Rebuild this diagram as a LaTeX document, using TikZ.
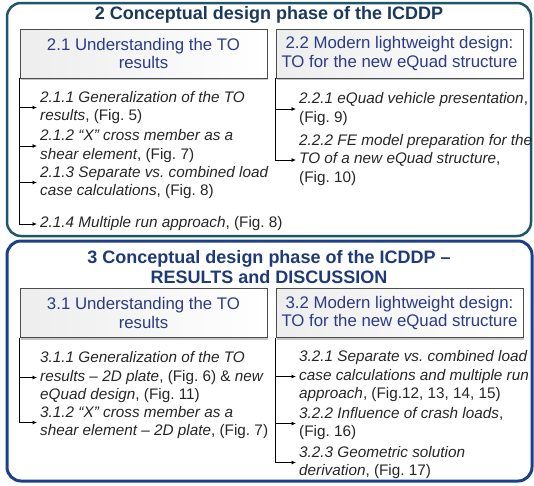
\documentclass[tikz,border=0pt]{standalone}
\usepackage{fontspec}
\setmainfont{Liberation Sans}
\usetikzlibrary{arrows.meta,shadows}
\definecolor{tealb}{HTML}{1E5568}
\definecolor{blueb}{HTML}{1C3F8A}
\definecolor{hdtxt}{HTML}{2A3C86}
\definecolor{tone}{HTML}{1B3A5A}
\definecolor{ttwo}{HTML}{1E3A78}
\frenchspacing
\begin{document}
\begin{tikzpicture}[x=1pt,y=-1pt,
 outerone/.style={draw=tealb,line width=2.5pt,rounded corners=14pt},
 outertwo/.style={draw=blueb,line width=3pt,rounded corners=14pt},
 ttl/.style={font=\fontsize{18}{20.5}\selectfont\bfseries, align=center, inner sep=0pt},
 hdr/.style={draw=gray!60!black, line width=0.6pt, left color=gray!14, right color=white,
   text=hdtxt, font=\fontsize{16.8}{18.5}\selectfont, align=center, inner sep=0pt,
   minimum width=247pt, minimum height=49pt,
   drop shadow={shadow xshift=0.6pt,shadow yshift=-2pt,opacity=0.45}},
 item/.style={anchor=west, align=left, inner xsep=3pt, inner ysep=0pt,
   font=\fontsize{15.3}{18.5}\selectfont, text=black!85},
 arr/.style={-{Latex[length=4.5pt,width=4pt]}, line width=0.8pt}]
\useasboundingbox[fill=white] (0,0) rectangle (534,485);
% outer boxes
\draw[outerone] (7,3) rectangle (531,236);
\draw[outertwo] (7,241) rectangle (532,481);
% titles
\node[ttl, text=tone] (t1) at (269,15) {2 Conceptual design phase of the ICDDP};
\node[ttl, text=ttwo] (t2) at (269,267) {3 Conceptual design phase of the ICDDP –\\RESULTS and DISCUSSION};
% headers
\node[hdr] (h21) at (143.5,53.5) {2.1 Understanding the TO\\results};
\node[hdr] (h22) at (399.5,53.5) {2.2 Modern lightweight design:\\TO for the new eQuad structure};
\node[hdr] (h31) at (143.5,313) {3.1 Understanding the TO\\results};
\node[hdr] (h32) at (399.5,313) {3.2 Modern lightweight design:\\TO for the new eQuad structure};
% items top left
\node[item] (i211) at (37,107.5) {\textit{2.1.1 Generalization of the TO}\\\textit{results}, (Fig. 5)};
\node[item] (i212) at (37,146) {\textit{2.1.2 “X” cross member as a}\\\textit{shear element}, (Fig. 7)};
\node[item] (i213) at (37,182.5) {\textit{2.1.3 Separate vs. combined load}\\\textit{case calculations}, (Fig. 8)};
\node[item] (i214) at (37,224) {\textit{2.1.4 Multiple run approach}, (Fig. 8)};
% items top right
\node[item] (i221) at (296,109) {\textit{2.2.1 eQuad vehicle presentation},\\(Fig. 9)};
\node[item] (i222) at (296,160) {\textit{2.2.2 FE model preparation for the}\\\textit{TO of a new eQuad structure},\\(Fig. 10)};
% items bottom left
\node[item] (i311) at (37,377.5) {\textit{3.1.1 Generalization of the TO}\\\textit{results – 2D plate}, (Fig. 6) \& \textit{new}\\\textit{eQuad design}, (Fig. 11)};
\node[item] (i312) at (37,422.5) {\textit{3.1.2 “X” cross member as a}\\\textit{shear element – 2D plate}, (Fig. 7)};
% items bottom right
\node[item] (i321) at (296,376.5) {\textit{3.2.1 Separate vs. combined load}\\\textit{case calculations and multiple run}\\\textit{approach}, (Fig.12, 13, 14, 15)};
\node[item] (i322) at (296,423.5) {\textit{3.2.2 Influence of crash loads},\\(Fig. 16)};
\node[item] (i323) at (296,462.5) {\textit{3.2.3 Geometric solution}\\\textit{derivation}, (Fig. 17)};
% connectors
\foreach \i in {i211,i212,i213,i214} \draw[arr] (h21.south west) |- (\i.west);
\foreach \i in {i221,i222} \draw[arr] (h22.south west) |- (\i.west);
\foreach \i in {i311,i312} \draw[arr] (h31.south west) |- (\i.west);
\foreach \i in {i321,i322,i323} \draw[arr] (h32.south west) |- (\i.west);
\end{tikzpicture}
\end{document}
